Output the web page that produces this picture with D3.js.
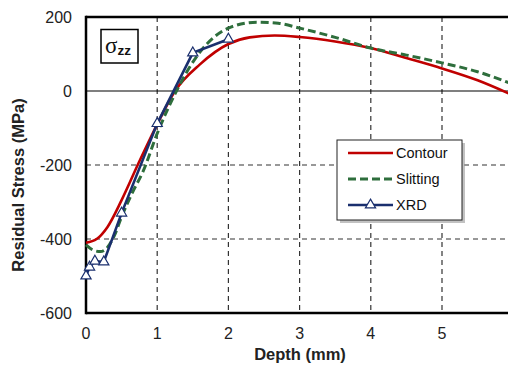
<!DOCTYPE html>
<html><head><meta charset="utf-8">
<script src="https://cdn.jsdelivr.net/npm/d3@7"></script>
<style>body{margin:0;background:#fff;overflow:hidden}svg{display:block}</style>
</head><body><svg id="c" width="508" height="365"></svg>
<script>
const contourX = [0,0.15,0.3,0.5,0.75,1,1.25,1.6,2,2.3,2.65,3,3.5,4,4.5,5,5.5,6];
const contourY = [-410,-400,-368,-295,-190,-90,0,72,127,145,150,146,134,116,89,61,29,-12];
const slitX = [0,0.1,0.2,0.3,0.4,0.5,0.65,0.8,1,1.27,1.6,2,2.4,2.7,3,3.5,4,4.5,5,5.5,6];
const slitY = [-416,-430,-434,-423,-390,-340,-275,-218,-115,0,105,170,186,183,170,145,116,97,76,52,18];
const xrdX = [0,0.05,0.125,0.25,0.5,1.0,1.5,2.0];
const xrdY = [-500,-476,-460,-462,-330,-88,103,140];
const xTicks = [0,1,2,3,4,5,6];
const yTicks = [-600,-400,-200,0,200];
const legendNames = ["Contour","Slitting","XRD"];

const svg = d3.select("#c");
const x = d3.scaleLinear().domain([0,6]).range([86,513.2]);
const y = d3.scaleLinear().domain([-600,200]).range([313,17]);
const font = "Arial, 'Liberation Sans', sans-serif";

// grid
svg.append("g").selectAll("line").data([1,2,3,4,5]).join("line")
  .attr("x1",d=>x(d)).attr("x2",d=>x(d)).attr("y1",y(200)).attr("y2",y(-600))
  .attr("stroke","#333").attr("stroke-width",1.2).attr("stroke-dasharray","5,4");
svg.append("g").selectAll("line").data([-400,-200]).join("line")
  .attr("x1",x(0)).attr("x2",508).attr("y1",d=>y(d)).attr("y2",d=>y(d))
  .attr("stroke","#333").attr("stroke-width",1.2).attr("stroke-dasharray","5,4");
svg.append("line").attr("x1",x(0)).attr("x2",508).attr("y1",y(0)).attr("y2",y(0))
  .attr("stroke","#000").attr("stroke-width",1.2);

// frame
svg.append("line").attr("x1",x(0)).attr("x2",508).attr("y1",y(200)).attr("y2",y(200)).attr("stroke","#000").attr("stroke-width",2.5);
svg.append("line").attr("x1",x(0)).attr("x2",508).attr("y1",y(-600)).attr("y2",y(-600)).attr("stroke","#000").attr("stroke-width",2.5);
svg.append("line").attr("x1",x(0)).attr("x2",x(0)).attr("y1",y(200)-1.2).attr("y2",y(-600)+1.2).attr("stroke","#000").attr("stroke-width",2.5);

// tick labels
svg.append("g").selectAll("text").data(yTicks).join("text")
  .attr("x",72).attr("y",d=>y(d)+6).attr("text-anchor","end")
  .attr("font-family",font).attr("font-size",16).attr("fill","#222").text(d=>d);
svg.append("g").selectAll("text").data(xTicks).join("text")
  .attr("x",d=>x(d)).attr("y",339).attr("text-anchor","middle")
  .attr("font-family",font).attr("font-size",16).attr("fill","#222").text(d=>d);

svg.append("text").attr("x",300).attr("y",360).attr("text-anchor","middle")
  .attr("font-family",font).attr("font-size",16.5).attr("font-weight","bold").attr("fill","#222").text("Depth (mm)");
svg.append("text").attr("transform","translate(24,185) rotate(-90)").attr("text-anchor","middle")
  .attr("font-family",font).attr("font-size",16.5).attr("font-weight","bold").attr("fill","#222").text("Residual Stress (MPa)");

// sigma box
svg.append("rect").attr("x",101).attr("y",29.5).attr("width",37).attr("height",33.5)
  .attr("fill","#fff").attr("stroke","#000").attr("stroke-width",1.5);
const st = svg.append("text").attr("x",105).attr("y",53).attr("font-family","'Liberation Serif', 'Times New Roman', serif").attr("font-size",23).attr("fill","#111");
st.append("tspan").text("σ");
st.append("tspan").attr("dy",2).attr("font-family",font).attr("font-weight","bold").attr("font-size",13.5).text("zz");

// lines
const line = (xs,ys,curve)=>d3.line().x((d,i)=>x(xs[i])).y(d=>y(d)).curve(curve)(ys);
svg.append("path").attr("d",line(contourX,contourY,d3.curveMonotoneX))
  .attr("fill","none").attr("stroke","#C00000").attr("stroke-width",2.6);
svg.append("path").attr("d",line(slitX,slitY,d3.curveMonotoneX))
  .attr("fill","none").attr("stroke","#2E6E3C").attr("stroke-width",3).attr("stroke-dasharray","8,4");
svg.append("path").attr("d",line(xrdX,xrdY,d3.curveLinear))
  .attr("fill","none").attr("stroke","#1A2F6E").attr("stroke-width",2.6);
const tri = d3.symbol().type(d3.symbolTriangle).size(45);
svg.append("g").selectAll("path").data(xrdY).join("path")
  .attr("d",tri).attr("transform",(d,i)=>`translate(${x(xrdX[i])},${y(d)})`)
  .attr("fill","#fff").attr("stroke","#1A2F6E").attr("stroke-width",1.2);

// legend
const lg = svg.append("g");
lg.append("rect").attr("x",340).attr("y",143).attr("width",125).attr("height",80).attr("fill","#999").attr("opacity",0.6);
lg.append("rect").attr("x",337).attr("y",140).attr("width",125).attr("height",80).attr("fill","#fff").attr("stroke","#222").attr("stroke-width",1);
const ly = [153,179,205];
const styles = [
  {c:"#C00000",w:2.6,da:null},
  {c:"#2E6E3C",w:3,da:"8,4"},
  {c:"#1A2F6E",w:2.6,da:null}];
legendNames.forEach((n,i)=>{
  lg.append("line").attr("x1",348).attr("x2",393).attr("y1",ly[i]).attr("y2",ly[i])
    .attr("stroke",styles[i].c).attr("stroke-width",styles[i].w).attr("stroke-dasharray",styles[i].da);
  if(i===2) lg.append("path").attr("d",tri).attr("transform",`translate(370.5,${ly[i]})`)
    .attr("fill","#fff").attr("stroke","#1A2F6E").attr("stroke-width",1.2);
  lg.append("text").attr("x",396).attr("y",ly[i]+5).attr("font-family",font).attr("font-size",14.5).attr("fill","#111").text(n);
});
</script></body></html>
